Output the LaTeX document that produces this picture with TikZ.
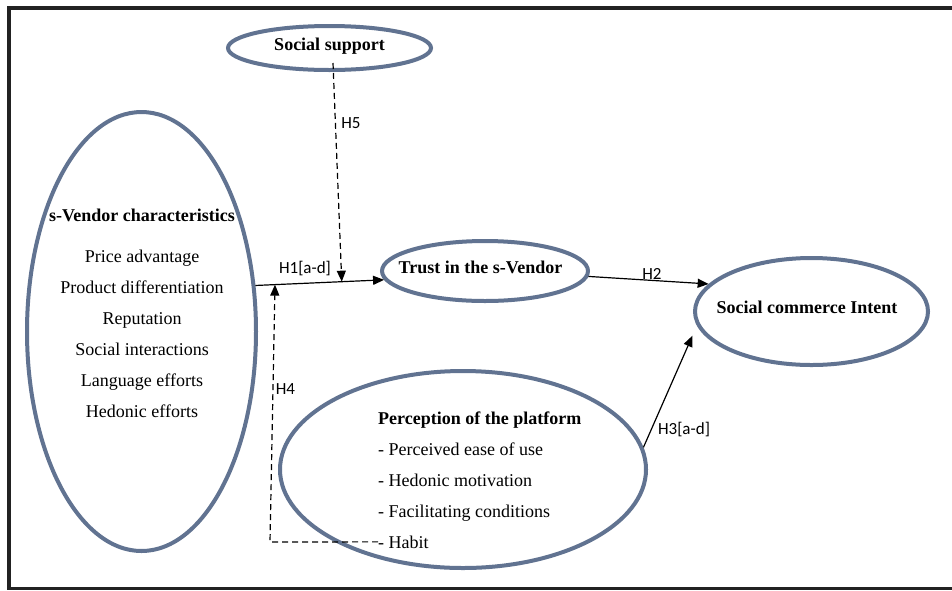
\documentclass[tikz,border=0pt]{standalone}
\usepackage{fontspec}
\setmainfont{Liberation Serif}
\newfontfamily\hypfont{Carlito}
\usetikzlibrary{shapes.geometric, arrows.meta, positioning}
\definecolor{ovalblue}{RGB}{97,115,145}
\definecolor{framegray}{RGB}{34,34,34}

\begin{document}
\begin{tikzpicture}[x=1pt, y=-1pt,
  construct/.style={ellipse, draw=ovalblue, line width=4pt, inner sep=0pt},
  title/.style={font=\fontsize{18}{20}\selectfont\bfseries, inner sep=0pt},
  item/.style={font=\fontsize{18}{20}\selectfont, inner sep=0pt},
  hyp/.style={font=\hypfont\fontsize{17}{19}\selectfont, inner sep=0pt, anchor=base},
  arr/.style={-{Triangle[length=11pt,width=9pt]}, line width=1.2pt},
  dasharr/.style={arr, dash pattern=on 6pt off 4pt}
]
  \useasboundingbox (0,0) rectangle (952,590);
  \draw[line width=3.5pt, framegray] (960,8) -- (9,8) -- (9,588.5) -- (960,588.5);

  % constructs
  \node[construct, minimum width=203pt, minimum height=44pt] (social) at (329.5,48) {};
  \node[construct, minimum width=229pt, minimum height=439pt] (vendor) at (141.5,331.5) {};
  \node[construct, minimum width=206pt, minimum height=60pt] (trust) at (485,271) {};
  \node[construct, minimum width=233pt, minimum height=107pt] (intent) at (811.5,311.5) {};
  \node[construct, minimum width=366pt, minimum height=197pt] (percep) at (463,469.5) {};

  \node[title, anchor=base] (socialtxt) at (329.5,50.5) {Social support};
  \node[title, anchor=base] (trusttxt) at (480.5,273) {Trust in the s-Vendor};
  \node[title, anchor=base] (intenttxt) at (807,313) {Social commerce Intent};

  % s-Vendor items
  \node[title, anchor=base] (vtitle) at (142,221) {s-Vendor characteristics};
  \node[item, below=41pt of vtitle.base, anchor=base] (price) {Price advantage};
  \node[item, below=31pt of price.base, anchor=base] (product) {Product differentiation};
  \node[item, below=31pt of product.base, anchor=base] (reput) {Reputation};
  \node[item, below=31pt of reput.base, anchor=base] (interact) {Social interactions};
  \node[item, below=31pt of interact.base, anchor=base] (language) {Language efforts};
  \node[item, below=31pt of language.base, anchor=base] (hedeff) {Hedonic efforts};

  % platform items
  \node[title, anchor=base west] (ptitle) at (378,424) {Perception of the platform};
  \node[item, below=31pt of ptitle.base west, anchor=base west] (ease) {- Perceived ease of use};
  \node[item, below=31pt of ease.base west, anchor=base west] (hedmot) {- Hedonic motivation};
  \node[item, below=31pt of hedmot.base west, anchor=base west] (facil) {- Facilitating conditions};
  \node[item, below=31pt of facil.base west, anchor=base west] (habit) {- Habit};

  % hypotheses
  \draw[arr] (vendor.22) -- coordinate[pos=0.152] (h4end) coordinate[pos=0.671] (h5end) (trust.185);
  \draw[dasharr] ([shift={(3.5pt,-15pt)}]social.center) -- (h5end);
  \coordinate (h4corner) at (270,542);
  \draw[dasharr] (habit.west) -- (h4corner) -- (h4end);
  \draw[arr] (trust.-3) -- (intent.165);
  \draw[arr, shorten >=11pt] (percep.7) -- (intent.187);

  \node[hyp] (h5) at (351,128) {H5};
  \node[hyp] (h1) at (305,273) {H1[a-d]};
  \node[hyp] (h2) at (652,279) {H2};
  \node[hyp] (h4) at (285.5,394) {H4};
  \node[hyp] (h3) at (684,434) {H3[a-d]};
\end{tikzpicture}
\end{document}
